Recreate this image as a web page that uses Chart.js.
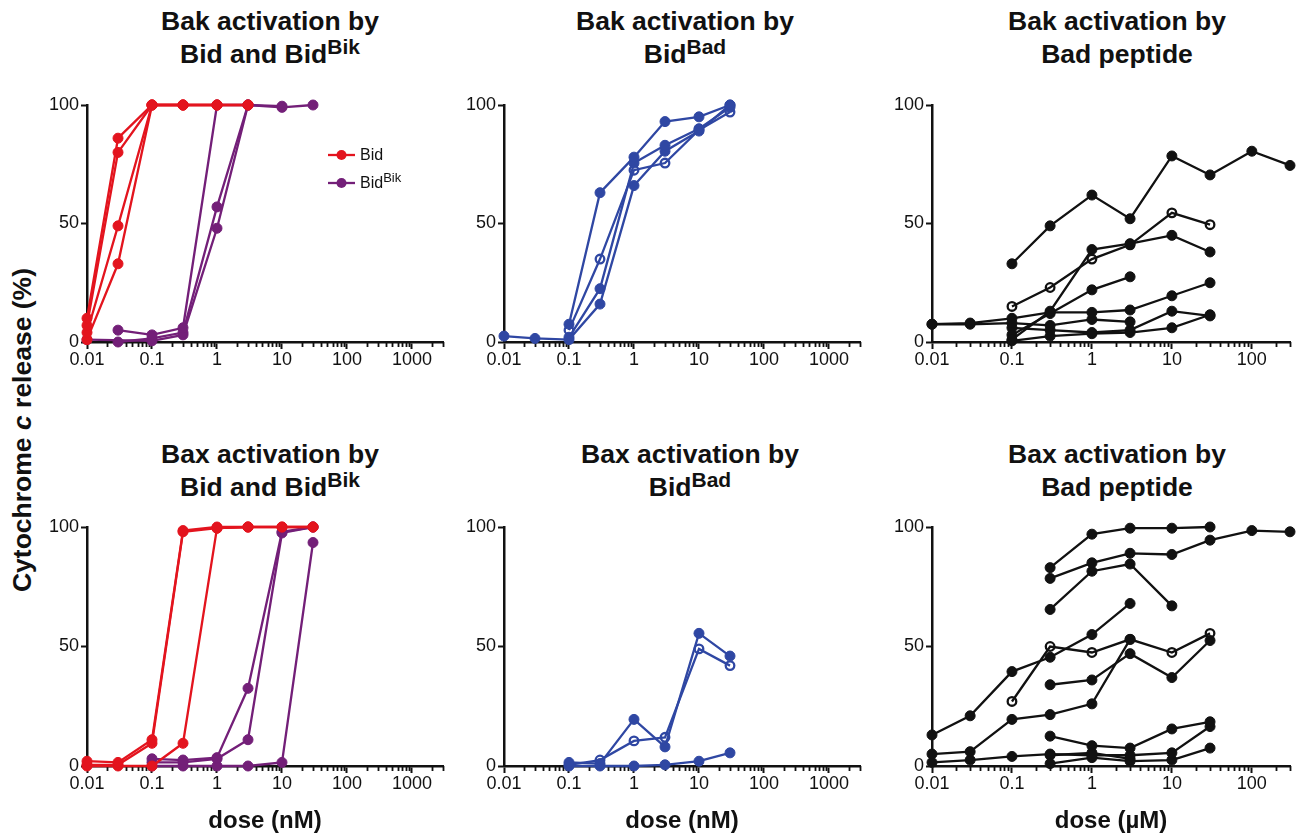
<!DOCTYPE html>
<html>
<head>
<meta charset="utf-8">
<script src="https://cdn.jsdelivr.net/npm/chart.js@4.4.1/dist/chart.umd.min.js"></script>
<style>
  body { margin: 0; background: #fff; width: 1300px; height: 838px; position: relative; overflow: hidden;
         font-family: "Liberation Sans", Arial, sans-serif; color: #111; }
  canvas { position: absolute; }
  .title { position: absolute; width: 360px; text-align: center; font-weight: bold; font-size: 26.5px; line-height: 33px; }
  .title sup { font-size: 21px; line-height: 0; vertical-align: 0.42em; }
  .ytitle { position: absolute; left: 22px; top: 430px; width: 400px; margin-left: -200px; margin-top: -15px;
            text-align: center; font-weight: bold; font-size: 26.5px; line-height: 30px; transform: rotate(-90deg); white-space: nowrap; }
</style>
</head>
<body>
<div class="title" style="left:90px;top:5px">Bak activation by<br>Bid and Bid<sup>Bik</sup></div>
<div class="title" style="left:505px;top:5px">Bak activation by<br>Bid<sup>Bad</sup></div>
<div class="title" style="left:937px;top:5px">Bak activation by<br>Bad peptide</div>
<div class="title" style="left:90px;top:438px">Bax activation by<br>Bid and Bid<sup>Bik</sup></div>
<div class="title" style="left:510px;top:438px">Bax activation by<br>Bid<sup>Bad</sup></div>
<div class="title" style="left:937px;top:438px">Bax activation by<br>Bad peptide</div>
<div class="ytitle">Cytochrome <i>c</i> release (%)</div>

<canvas id="bakBid"></canvas>
<canvas id="bakBidBad"></canvas>
<canvas id="bakBad"></canvas>
<canvas id="baxBid"></canvas>
<canvas id="baxBidBad"></canvas>
<canvas id="baxBad"></canvas>

<script>
// doses shared by every panel (nM for Bid proteins, µM for the peptide)
const doses = [0.01, 0.03, 0.1, 0.3, 1, 3, 10, 30, 100, 300];
const majorTicks = [0.01, 0.1, 1, 10, 100, 1000];
const yTicks = [0, 50, 100];

// Bak panel, Bid (red) and Bid^Bik (purple)
const bakBid = [
  [10, 86, 100, 100, 100, 100],
  [7, 80, 100, 100, 100],
  [4, 49, 100, 100, 100, 100],
  [1, 33, 100, 100],
];
const bakBidBik = [
  [null, 5, 3, 6, 100, 100],
  [null, 0, 1.5, 4, 57, 100, 99, 100],
  [1, null, 0.5, 3, 48, 100, 99.5],
];

// Bak panel, Bid^Bad (blue); second series drawn with open circles
const bakBidBad = [
  [null, null, 7.5, 63, 78, 93, 95, 100],
  [null, null, 5, 35, 72.5, 75.5, 89.5, 97],
  [null, null, 2, 22.5, 75.5, 83, 90, 99],
  [2.5, 1.5, 1, 16, 66, 80.5, 89, 100],
];
const bakBidBadOpen = [false, true, false, false];

// Bak panel, Bad peptide (black)
const bakBad = [
  [null, null, 33, 49, 62, 52, 78.5, 70.5, 80.5, 74.5],
  [null, null, 15, 23, 35, 41, 54.5, 49.5],
  [null, null, 1, 13, 39, 41.5, 45, 38],
  [null, null, 3, 12, 22, 27.5],
  [7.5, 8, 10, 12.5, 12.5, 13.5, 19.5, 25],
  [7.5, 7.5, 8, 7, 9.5, 8.5],
  [null, null, 6, 5, 4, 5, 13, 11],
  [null, null, 0.5, 2.5, 3.5, 4, 6, 11.5],
];
const bakBadOpen = [false, true, false, false, false, false, false, false];

// Bax panel, Bid and Bid^Bik
const baxBid = [
  [2, 1.5, 11, 98.5, 100, 100, 100, 100],
  [0.5, 0.5, 9.5, 98, 99.5, 100],
  [0, 0, 0, 9.5, 99.5, 100, 100, 100],
];
const baxBidBik = [
  [null, null, 3, 2.5, 3.5, 32.5, 98, 100],
  [null, null, 1.5, 1.5, 3, 11, 97.5, 100],
  [null, null, 0, 0, 0, 0, 1.5, 93.5],
];

// Bax panel, Bid^Bad
const baxBidBad = [
  [null, null, 1.5, 1, 19.5, 8, 55.5, 46],
  [null, null, 0.5, 2.5, 10.5, 12, 49, 42],
  [null, null, 0, 0, 0, 0.5, 2, 5.5],
];
const baxBidBadOpen = [false, true, false];

// Bax panel, Bad peptide
const baxBad = [
  [null, null, null, 83, 97, 99.5, 99.5, 100],
  [null, null, null, 78.5, 85, 89, 88.5, 94.5, 98.5, 98],
  [null, null, null, 65.5, 81.5, 84.5, 67],
  [13, 21, 39.5, 45.5, 55, 68],
  [null, null, 27, 50, 47.5, 53, 47.5, 55.5],
  [null, null, null, 34, 36, 47, 37, 52.5],
  [5, 6, 19.5, 21.5, 26, 53],
  [null, null, null, 12.5, 8.5, 7.5, 15.5, 18.5],
  [1.5, 2.5, 4, 5, 4.5, 4.5, 5.5, 16.5],
  [null, null, null, 1, 3.5, 2, 2.5, 7.5],
  [null, null, null, 4.5, 5.5, 3],
];
const baxBadOpen = [false, false, false, false, true, false, false, false, false, false, false];

//---------------------------------------------------
// Styling
//---------------------------------------------------

const RED = "#e3141e";
const PURPLE = "#731f78";
const BLUE = "#2f47a3";
const BLACK = "#111111";
const FONT = "'Liberation Sans', Arial, sans-serif";

Chart.defaults.font.family = FONT;
Chart.defaults.color = BLACK;

function toPoints(values) {
  const pts = [];
  values.forEach((v, i) => {
    if (v !== null && v !== undefined) pts.push({ x: doses[i], y: v });
  });
  return pts;
}

function makeSeries(list, color, openFlags) {
  return list.map((values, i) => {
    const open = openFlags ? openFlags[i] : false;
    return {
      data: toPoints(values),
      showLine: true,
      borderColor: color,
      borderWidth: 2.3,
      pointRadius: open ? 4.3 : 5,
      pointBorderWidth: open ? 2.3 : 1,
      pointBackgroundColor: open ? "rgba(255,255,255,0)" : color,
      pointBorderColor: color,
      clip: false,
    };
  });
}

// short ticks between the decades
const minorTicks = {
  id: "minorTicks",
  beforeDatasetsDraw(chart) {
    const x = chart.scales.x;
    const ctx = chart.ctx;
    ctx.save();
    ctx.strokeStyle = BLACK;
    ctx.lineWidth = 1.8;
    ctx.beginPath();
    for (let e = -2; e < 4; e++) {
      for (let m = 2; m < 10; m++) {
        const v = m * Math.pow(10, e);
        if (v > x.max) continue;
        const px = Math.round(x.getPixelForValue(v)) + 0.5;
        ctx.moveTo(px, x.top);
        ctx.lineTo(px, x.top + 5);
      }
    }
    ctx.stroke();
    ctx.restore();
  },
};

// legend of the first panel (Bid / Bid^Bik)
const bidLegend = {
  id: "bidLegend",
  afterDraw(chart) {
    const area = chart.chartArea;
    const ctx = chart.ctx;
    const items = [
      { color: RED, text: "Bid", sup: "" },
      { color: PURPLE, text: "Bid", sup: "Bik" },
    ];
    ctx.save();
    items.forEach((it, i) => {
      const y = area.top + 50 + i * 28;
      const x0 = area.left + 241;
      ctx.strokeStyle = it.color;
      ctx.lineWidth = 2.3;
      ctx.beginPath();
      ctx.moveTo(x0, y);
      ctx.lineTo(x0 + 27, y);
      ctx.stroke();
      ctx.fillStyle = it.color;
      ctx.beginPath();
      ctx.arc(x0 + 13.5, y, 5, 0, Math.PI * 2);
      ctx.fill();
      ctx.fillStyle = BLACK;
      ctx.textBaseline = "middle";
      ctx.font = "16px " + FONT;
      ctx.fillText(it.text, x0 + 32, y + 1);
      if (it.sup) {
        const w = ctx.measureText(it.text).width;
        ctx.font = "13px " + FONT;
        ctx.fillText(it.sup, x0 + 32 + w, y - 5);
      }
    });
    ctx.restore();
  },
};

//---------------------------------------------------
// Panels
//---------------------------------------------------

const YW = 50;   // width kept for the y axis
const PADT = 14;
const PADR = 10;

function makePanel(id, box, xmax, datasets, xTitle, extraPlugins) {
  const canvas = document.getElementById(id);
  const xh = xTitle ? 72 : 32;
  const w = box.R - box.L + YW + PADR;
  const h = box.B - box.T + PADT + xh;
  canvas.width = w;
  canvas.height = h;
  canvas.style.left = (box.L - YW) + "px";
  canvas.style.top = (box.T - PADT) + "px";

  return new Chart(canvas, {
    type: "scatter",
    data: { datasets: datasets },
    plugins: [minorTicks].concat(extraPlugins || []),
    options: {
      responsive: false,
      animation: false,
      devicePixelRatio: 1,
      layout: { padding: { top: PADT, right: PADR, left: 0, bottom: 0 } },
      plugins: { legend: { display: false }, tooltip: { enabled: false } },
      scales: {
        x: {
          type: "logarithmic",
          min: 0.01,
          max: xmax,
          bounds: "data",
          afterBuildTicks: (s) => {
            s.ticks = majorTicks.filter((v) => v <= xmax).map((v) => ({ value: v }));
          },
          afterFit: (s) => { s.height = xh; },
          ticks: {
            autoSkip: false,
            maxRotation: 0,
            padding: 0,
            color: BLACK,
            font: { size: 18 },
            callback: (v) => String(v),
          },
          grid: { drawOnChartArea: false, tickLength: 7, tickWidth: 2, tickColor: BLACK },
          border: { color: BLACK, width: 2.5 },
          title: {
            display: !!xTitle,
            text: xTitle || "",
            font: { size: 24, weight: "bold" },
            color: BLACK,
            padding: { top: 0, bottom: 2 },
          },
        },
        y: {
          type: "linear",
          min: 0,
          max: 100,
          afterBuildTicks: (s) => { s.ticks = yTicks.map((v) => ({ value: v })); },
          afterFit: (s) => { s.width = YW; },
          ticks: { padding: 2, color: BLACK, font: { size: 18 } },
          grid: { drawOnChartArea: false, tickLength: 6, tickWidth: 2, tickColor: BLACK },
          border: { color: BLACK, width: 2.5 },
        },
      },
    },
  });
}

const top1 = { T: 105, B: 342 };
const top2 = { T: 527, B: 766 };
const col1 = { L: 87, R: 443 };
const col2 = { L: 504, R: 860 };
const col3 = { L: 932, R: 1290 };

makePanel("bakBid", { ...col1, ...top1 }, 3000,
  makeSeries(bakBid, RED).concat(makeSeries(bakBidBik, PURPLE)), null, [bidLegend]);
makePanel("bakBidBad", { ...col2, ...top1 }, 3000,
  makeSeries(bakBidBad, BLUE, bakBidBadOpen), null);
makePanel("bakBad", { ...col3, ...top1 }, 300,
  makeSeries(bakBad, BLACK, bakBadOpen), null);
makePanel("baxBid", { ...col1, ...top2 }, 3000,
  makeSeries(baxBid, RED).concat(makeSeries(baxBidBik, PURPLE)), "dose (nM)");
makePanel("baxBidBad", { ...col2, ...top2 }, 3000,
  makeSeries(baxBidBad, BLUE, baxBidBadOpen), "dose (nM)");
makePanel("baxBad", { ...col3, ...top2 }, 300,
  makeSeries(baxBad, BLACK, baxBadOpen), "dose (µM)");
</script>
</body>
</html>
